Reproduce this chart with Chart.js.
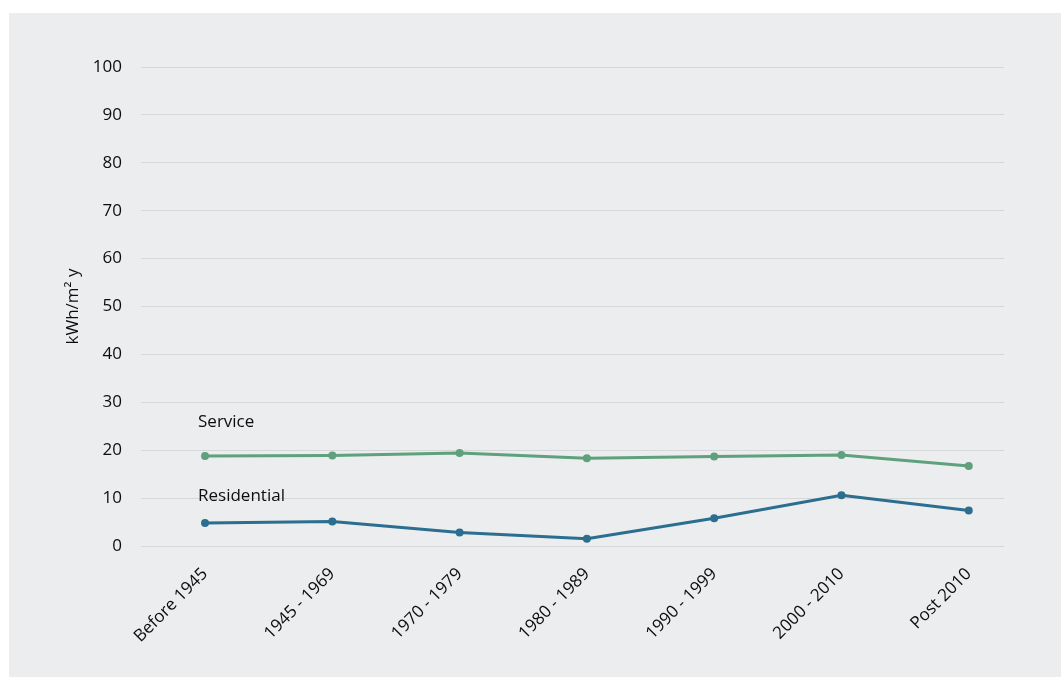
<!DOCTYPE html>
<html>
<head>
<meta charset="utf-8">
<script src="https://cdn.jsdelivr.net/npm/chart.js@4"></script>
<style>
    body { margin: 0; background: #ffffff; }
    #panel {
        position: absolute;
        left: 9px;
        top: 13px;
        width: 1052px;
        height: 664px;
        background: #ecedef;
    }
</style>
</head>
<body>
<div id="panel"><canvas id="chart" width="1052" height="664"></canvas></div>
<script>
// Data
const periods = ['Before 1945', '1945 - 1969', '1970 - 1979', '1980 - 1989', '1990 - 1999', '2000 - 2010', 'Post 2010'];
const service = [18.8, 18.9, 19.4, 18.3, 18.7, 19.0, 16.7];
const residential = [4.8, 5.1, 2.8, 1.5, 5.8, 10.6, 7.4];
const yTicks = [0, 10, 20, 30, 40, 50, 60, 70, 80, 90, 100];

// Series names written next to the first point (value on the y axis)
const seriesNames = ['Service', 'Residential'];
const nameLevels = [25.9, 10.4];

const GREEN = '#5fa07d';
const BLUE = '#2b6e8f';
const TEXT = '#0d0d0d';

Chart.defaults.font.family = "'Open Sans', sans-serif";
Chart.defaults.font.size = 17;
Chart.defaults.color = TEXT;

const toPoints = (arr) => arr.map((v, i) => ({ x: i, y: v }));

// Inline series names
const nameLabels = {
    id: 'nameLabels',
    afterDatasetsDraw(chart) {
        const ctx = chart.ctx;
        const xs = chart.scales.x;
        const ys = chart.scales.y;
        ctx.save();
        ctx.font = "17px 'Open Sans', sans-serif";
        ctx.fillStyle = TEXT;
        ctx.textAlign = 'left';
        ctx.textBaseline = 'middle';
        seriesNames.forEach((name, i) => {
            ctx.fillText(name, xs.getPixelForValue(0) - 7, ys.getPixelForValue(nameLevels[i]));
        });
        ctx.restore();
    }
};

new Chart(document.getElementById('chart').getContext('2d'), {
    type: 'line',
    data: {
        datasets: [{
                label: 'Service',
                data: toPoints(service),
                borderColor: GREEN,
                backgroundColor: GREEN,
                borderWidth: 3,
                pointRadius: 4,
                pointBorderWidth: 0,
                tension: 0
            },
            {
                label: 'Residential',
                data: toPoints(residential),
                borderColor: BLUE,
                backgroundColor: BLUE,
                borderWidth: 3,
                pointRadius: 4,
                pointBorderWidth: 0,
                tension: 0
            }
        ]
    },
    options: {
        responsive: false,
        animation: false,
        layout: {
            padding: { left: 0, top: 54, right: 57, bottom: 0 }
        },
        plugins: {
            legend: { display: false },
            tooltip: { enabled: false }
        },
        scales: {
            x: {
                type: 'linear',
                min: -0.503,
                max: 6.277,
                afterBuildTicks: (s) => { s.ticks = periods.map((_, i) => ({ value: i })); },
                afterFit: (s) => { s.height = 131; },
                grid: { display: false },
                border: { display: false },
                ticks: {
                    autoSkip: false,
                    maxRotation: 45,
                    minRotation: 45,
                    padding: 10,
                    callback: (v) => periods[v]
                }
            },
            y: {
                min: 0,
                max: 100,
                afterBuildTicks: (s) => { s.ticks = yTicks.map(v => ({ value: v })); },
                afterFit: (s) => { s.width = 132; },
                grid: { color: '#d6d7d9', lineWidth: 1, drawTicks: false },
                border: { display: false },
                ticks: { padding: 19 },
                title: {
                    display: true,
                    text: 'kWh/m² y',
                    padding: { top: 54, bottom: 0 }
                }
            }
        }
    },
    plugins: [nameLabels]
});
</script>
</body>
</html>
